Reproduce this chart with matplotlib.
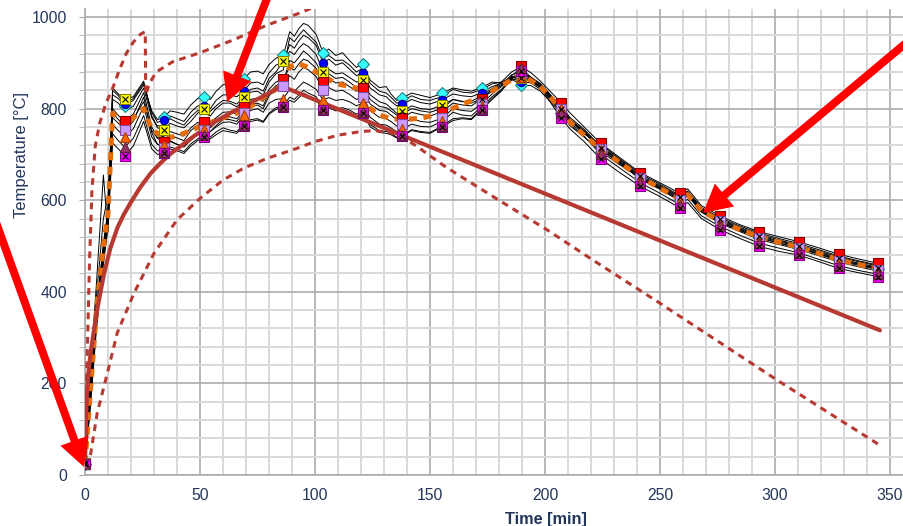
import numpy as np
import matplotlib.pyplot as plt
from matplotlib.patches import FancyArrow

# sample times of the thermocouple readings [min]
TIME = [0, 2, 5, 8, 10, 12, 14.5, 17.25, 21, 25.5, 29, 34.5, 40, 46, 51.75, 57, 63, 69, 75, 80,
        86.25, 89, 93, 97, 100.5, 103.5, 109, 115, 120.75, 124, 128, 133, 138, 146, 155.25, 164,
        172.5, 181, 189.75, 198, 207, 211, 217, 224.25, 232, 241.5, 250, 258.75, 262, 268, 276,
        284, 293.25, 302, 310.5, 319, 327.75, 336, 345]
# extra readings in the noisy middle part of the test
MID_TIME = [31.5, 37, 43, 49, 54.5, 60, 66, 72, 77.5, 83, 91, 95, 106, 112, 118, 131, 135.5, 142,
            150, 160, 168, 177, 185.5, 194]
MARK_TIMES = [0, 17.25, 34.5, 51.75, 69, 86.25, 103.5, 120.75, 138, 155.25, 172.5, 189.75,
              207, 224.25, 241.5, 258.75, 276, 293.25, 310.5, 327.75, 345]

tc_cyan = [25, 165, 360, 500, 575, 830, 822, 806, 818, 852, 795, 782, 792, 808, 826, 838, 855, 865, 882, 896,
           916, 968, 975, 982, 962, 922, 916, 905, 898, 862, 846, 832, 823, 829, 833, 841, 846, 856, 852, 838,
           790, 762, 738, 706, 679, 648, 626, 601, 612, 575, 552, 535, 518, 506, 496, 483, 470, 460, 450]
tc_cyan_mid = [776, 795, 788, 822, 820, 852, 848, 880, 876, 910, 958, 986, 930, 922, 890, 848, 818, 834,
               824, 845, 838, 858, 864, 850]
tc_blue = [25, 170, 365, 505, 580, 840, 828, 811, 822, 856, 792, 775, 778, 792, 806, 818, 830, 839, 858, 878,
           901, 940, 948, 955, 938, 900, 895, 886, 878, 845, 830, 816, 809, 813, 819, 828, 835, 855, 859, 842,
           795, 768, 745, 722, 692, 657, 635, 610, 620, 584, 562, 545, 528, 516, 505, 492, 478, 468, 458]
tc_blue_mid = [770, 784, 772, 806, 800, 830, 826, 856, 852, 895, 932, 960, 908, 900, 872, 826, 806, 820,
               810, 832, 826, 848, 866, 856]
tc_yellow = [26, 155, 350, 495, 570, 845, 832, 820, 826, 860, 785, 753, 762, 772, 800, 806, 816, 826, 845, 866,
             903, 925, 932, 936, 918, 881, 876, 868, 862, 830, 815, 801, 794, 800, 808, 816, 822, 850, 866, 845,
             800, 772, 748, 715, 688, 652, 630, 606, 616, 580, 558, 540, 522, 511, 500, 487, 473, 463, 453]
tc_yellow_mid = [758, 768, 758, 790, 794, 818, 810, 842, 838, 880, 918, 942, 886, 878, 858, 810, 790, 806,
                 798, 820, 812, 838, 870, 860]
tc_red = [25, 150, 345, 490, 565, 800, 785, 772, 788, 835, 760, 728, 736, 752, 771, 780, 793, 804, 823, 842,
          865, 890, 898, 904, 888, 859, 856, 848, 844, 810, 796, 786, 780, 787, 793, 808, 822, 858, 892, 860,
          813, 790, 760, 724, 695, 660, 638, 615, 625, 588, 566, 548, 531, 520, 509, 496, 482, 472, 462]
tc_red_mid = [735, 742, 730, 764, 768, 792, 788, 820, 816, 858, 884, 908, 866, 858, 838, 794, 776, 792,
              784, 812, 806, 842, 880, 878]
tc_lavender = [24, 145, 340, 485, 560, 780, 768, 754, 772, 825, 748, 714, 722, 736, 753, 763, 776, 791, 808, 828,
               850, 872, 880, 885, 870, 841, 838, 831, 826, 795, 781, 772, 767, 772, 779, 796, 811, 848, 877, 852,
               800, 775, 750, 712, 684, 648, 625, 600, 612, 576, 554, 536, 518, 506, 495, 482, 468, 458, 448]
tc_lavender_mid = [722, 728, 718, 748, 750, 776, 772, 804, 800, 842, 864, 890, 846, 840, 820, 778, 762, 778,
                   770, 800, 794, 832, 868, 868]
tc_orange = [25, 140, 335, 480, 555, 765, 752, 738, 756, 805, 738, 720, 722, 731, 755, 760, 771, 785, 800, 812,
             822, 842, 848, 853, 842, 819, 818, 815, 812, 781, 766, 758, 755, 761, 772, 786, 805, 842, 870, 848,
             800, 774, 748, 710, 682, 646, 624, 598, 610, 574, 550, 533, 514, 503, 492, 479, 465, 455, 445]
tc_orange_mid = [722, 730, 716, 744, 750, 770, 766, 796, 792, 820, 838, 858, 824, 820, 806, 764, 750, 766,
                 760, 792, 784, 826, 862, 862]
tc_purple = [24, 135, 330, 470, 545, 745, 730, 716, 735, 785, 722, 706, 712, 723, 742, 749, 753, 765, 778, 790,
             806, 825, 830, 834, 826, 800, 800, 797, 793, 765, 752, 746, 742, 750, 762, 780, 800, 840, 888, 852,
             790, 765, 740, 700, 672, 638, 615, 590, 602, 566, 543, 525, 506, 495, 485, 471, 457, 447, 438]
tc_purple_mid = [708, 716, 706, 734, 738, 758, 750, 776, 772, 802, 820, 840, 806, 802, 788, 750, 738, 754,
                 748, 778, 778, 822, 872, 868]
tc_magenta = [25, 130, 320, 460, 540, 725, 712, 697, 718, 772, 712, 702, 708, 718, 739, 743, 749, 762, 775, 788,
              804, 818, 824, 828, 820, 797, 795, 793, 790, 760, 748, 743, 740, 748, 760, 778, 798, 838, 882, 846,
              779, 755, 728, 690, 662, 630, 608, 583, 595, 560, 536, 518, 499, 488, 480, 466, 451, 442, 433]
tc_magenta_mid = [700, 712, 702, 730, 734, 752, 746, 772, 770, 798, 814, 834, 802, 798, 784, 746, 736, 752,
                  746, 774, 776, 820, 866, 862]
tc_extra1 = [25, 200, 420, 655, 530, 820, 812, 795, 805, 845, 780, 765, 770, 782, 790, 800, 812, 818, 838, 858,
             885, 955, 960, 962, 945, 910, 905, 895, 888, 855, 838, 825, 816, 820, 826, 836, 842, 858, 870, 850,
             805, 776, 752, 718, 690, 654, 632, 608, 618, 582, 560, 542, 525, 513, 502, 489, 476, 466, 456]
tc_extra1_mid = [762, 778, 764, 796, 784, 812, 804, 836, 830, 876, 946, 972, 916, 906, 880, 834, 812, 828,
                 818, 842, 834, 854, 868, 862]
tc_extra2 = [26, 180, 390, 560, 610, 790, 776, 762, 778, 815, 752, 740, 745, 758, 762, 770, 782, 796, 812, 835,
             858, 905, 912, 918, 900, 870, 866, 858, 852, 820, 805, 795, 788, 795, 800, 815, 828, 852, 880, 855,
             805, 780, 755, 716, 686, 650, 628, 604, 614, 578, 556, 538, 520, 509, 498, 485, 471, 461, 451]
tc_extra2_mid = [736, 750, 740, 770, 758, 784, 778, 808, 806, 850, 900, 926, 876, 868, 846, 802, 786, 800,
                 792, 820, 816, 844, 874, 868]
tc_mean = [25, 160, 360, 500, 570, 790, 778, 762, 780, 800, 755, 735, 740, 752, 765, 774, 785, 795, 815, 833,
           852, 892, 898, 890, 880, 872, 855, 848, 842, 800, 786, 778, 776, 779, 790, 810, 825, 850, 875, 848,
           800, 770, 742, 712, 684, 650, 626, 602, 612, 577, 555, 537, 520, 508, 497, 484, 470, 460, 450]

# design fire curve and its upper / lower bounds
fire_t = [0, 0.3, 0.7, 1.3, 2.5, 4, 5.5, 8.3, 11, 14.1, 17, 19.9, 24, 28.6, 33, 37.3, 47.4, 56.1, 63, 77.5,
          85.5, 345.6]
fire_v = [20, 90, 160, 215, 268, 320, 367, 440, 495, 540, 570, 595, 628, 659, 682, 702, 740, 770, 790, 827,
          849, 316]
upper_t = [0, 0.3, 1, 2, 3, 4.5, 6.5, 9, 12.3, 15, 18, 21, 24, 26.2, 26.4, 28, 31, 38, 50, 64.5, 79, 93, 106]
upper_v = [20, 140, 270, 470, 620, 720, 770, 810, 848, 885, 921, 945, 962, 968, 830, 855, 880, 902, 922, 950,
           982, 1008, 1035]
lower_t = [0, 1, 2.5, 5.3, 9.7, 14, 21.3, 30, 40, 50, 60, 69, 79, 92, 100, 110, 120, 126, 132, 137, 145, 157,
           179, 201, 220, 250, 301, 345.6]
lower_v = [20, 25, 47, 135, 222, 310, 397, 484, 557, 604, 644, 670, 691, 713, 728, 742, 750, 752, 748, 742, 715,
           672, 603, 535, 472, 375, 207, 65]

plt.rcParams['font.family'] = ['Liberation Sans', 'DejaVu Sans']
NAVY = '#22365a'
FIRE = '#b63a32'

fig = plt.figure(figsize=(9.04, 5.26), dpi=100)
ax = fig.add_axes([85 / 904, 51 / 526, 828 / 904, 466 / 526])

t_all = np.concatenate([TIME, MID_TIME])
order = np.argsort(t_all, kind='stable')
t = t_all[order]
marks = np.isin(t, MARK_TIMES)


def merged(main, mid):
    return np.concatenate([main, mid])[order]


# thermocouple traces
series = [
    (merged(tc_cyan, tc_cyan_mid), dict(marker='D', mfc='#33ffff', mec='#208080', ms=6)),
    (merged(tc_blue, tc_blue_mid), dict(marker='o', mfc='#0000ff', mec='#000080', ms=6)),
    (merged(tc_yellow, tc_yellow_mid), dict(marker='s', mfc='#ffff00', mec='#808000', ms=6.5)),
    (merged(tc_red, tc_red_mid), dict(marker='s', mfc='#ff0000', mec='#800000', ms=6.5)),
    (merged(tc_lavender, tc_lavender_mid), dict(marker='s', mfc='#cc99ff', mec='#7f4fa0', ms=6.5)),
    (merged(tc_orange, tc_orange_mid), dict(marker='^', mfc='#ff6600', mec='#a04000', ms=6.5)),
    (merged(tc_magenta, tc_magenta_mid), dict(marker='s', mfc='#ff00ff', mec='#800080', ms=6.5)),
    (merged(tc_purple, tc_purple_mid), dict(marker='^', mfc='#993366', mec='#602040', ms=6.5)),
]
extras = [merged(tc_extra1, tc_extra1_mid), merged(tc_extra2, tc_extra2_mid)]
for vals in extras + [s[0] for s in series]:
    ax.plot(t, vals, color='black', lw=0.7, zorder=2)

ax.plot(TIME, tc_mean, color='#e46c0a', lw=3.6, ls=(0, (1.6, 1.3)), zorder=3)

ax.plot(fire_t, fire_v, color=FIRE, lw=3.0, zorder=3.5, solid_capstyle='round')
ax.plot(upper_t, upper_v, color=FIRE, lw=2.2, ls=(0, (2.2, 1.8)), zorder=3.5)
ax.plot(lower_t, lower_v, color=FIRE, lw=2.2, ls=(0, (2.2, 1.8)), zorder=3.5)

for vals, style in series:
    ax.plot(t[marks], vals[marks], ls='none', mew=0.8, zorder=4, **style)
# crossed square markers
for vals in [series[2][0], series[6][0]]:
    ax.plot(t[marks], vals[marks], ls='none', marker='x', color='black', ms=4.5, mew=0.8, zorder=4.1)

ax.set_xlim(0, 360)
ax.set_ylim(0, 1017.5)
ax.set_xticks(np.arange(0, 351, 50))
ax.set_xticks(np.arange(0, 361, 10), minor=True)
ax.set_yticks(np.arange(0, 1001, 200))
ax.set_yticks(np.arange(0, 1017, 40), minor=True)
ax.grid(which='major', color='#ababab', lw=1.2)
ax.grid(which='minor', color='#d9d9d9', lw=1.4)
ax.set_axisbelow(True)
for side in ['top', 'right']:
    ax.spines[side].set_visible(False)
for side in ['left', 'bottom']:
    ax.spines[side].set_color('#ababab')
    ax.spines[side].set_linewidth(1.2)
ax.tick_params(axis='y', which='both', length=4, color='#ababab', labelsize=11.3,
               labelcolor=NAVY, pad=9)
ax.tick_params(axis='x', which='both', length=0, labelsize=11.3, labelcolor=NAVY, pad=9)

fig.text(22 / 904, 1 - 155 / 526, 'Temperature [°C]', rotation=90, ha='center', va='center',
         fontsize=12, color=NAVY)
fig.text(546 / 904, 1 - 512 / 526, 'Time [min]', ha='center', va='top', fontsize=11.7,
         fontweight='bold', color=NAVY)

# red pointer arrows, given in pixel positions (x, y from the top-left corner)
arrows = [((-12, 200), (84, 467)), ((268, -4), (227, 102)), ((912, 38), (703, 213))]
for (x0, y0), (x1, y1) in arrows:
    fig.add_artist(FancyArrow(x0 / 100, (526 - y0) / 100, (x1 - x0) / 100, (y0 - y1) / 100,
                              width=0.08, head_width=0.3, head_length=0.28,
                              length_includes_head=True, color='#ff0000', lw=0,
                              transform=fig.dpi_scale_trans, zorder=10))

fig.savefig('out.png', dpi=100)
